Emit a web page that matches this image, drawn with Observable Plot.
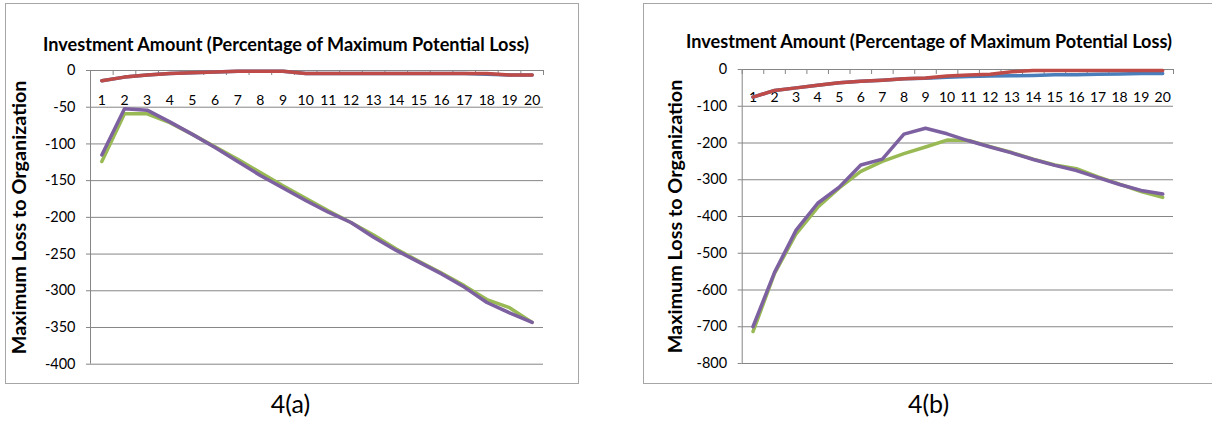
<!DOCTYPE html>
<html><head><meta charset="utf-8">
<script src="https://cdn.jsdelivr.net/npm/d3@7"></script>
<script src="https://cdn.jsdelivr.net/npm/@observablehq/plot@0.6"></script>
<style>
html,body{margin:0;padding:0;background:#fff;width:1212px;height:423px;overflow:hidden;position:relative;}
.frame{position:absolute;border:1px solid #a6a6a6;box-sizing:border-box;}
.chart{position:absolute;top:0;}
</style></head><body>
<div class="frame" style="left:5px;top:3px;width:574px;height:381px"></div>
<div class="frame" style="left:643px;top:3px;width:600px;height:381px"></div>
<div id="a" class="chart" style="left:0px"></div>
<div id="b" class="chart" style="left:620px"></div>
<script>
const categories = [1,2,3,4,5,6,7,8,9,10,11,12,13,14,15,16,17,18,19,20];
const seriesNames = ["Series1","Series2","Series3","Series4"];
const seriesColors = ["#4A7EBB","#BE4B48","#98B954","#7D60A0"];

// Chart 4(a)
const aBlue   = [-14,-9,-6,-4,-3,-2,-1,-1,-1,-4,-4,-4,-4,-4,-4,-4,-4,-5,-6,-6];
const aRed    = [-14,-9,-6,-4,-3,-2,-1,-1,-1,-4,-4,-4,-4,-4,-4,-4,-4,-4,-6,-6];
const aGreen  = [-124,-59,-59,-71,-87,-104,-121,-139,-157,-174,-191,-207,-224,-243,-260,-276,-293,-312,-323,-343];
const aPurple = [-115,-52,-54,-70,-87,-105,-124,-143,-160,-177,-193,-207,-227,-245,-261,-277,-295,-316,-330,-343];
const aYTicks = [0,-50,-100,-150,-200,-250,-300,-350,-400];

// Chart 4(b)
const bBlue   = [-75,-57,-50,-43,-36,-32,-29,-25,-24,-21,-19,-18,-17,-16,-14,-14,-13,-12,-11,-11];
const bRed    = [-75,-57,-50,-43,-36,-32,-29,-25,-23,-18,-15,-13,-6,-3,-3,-3,-3,-3,-3,-3];
const bGreen  = [-713,-555,-447,-375,-322,-277,-250,-229,-211,-192,-193,-210,-226,-244,-260,-270,-292,-312,-332,-348];
const bPurple = [-700,-552,-437,-364,-320,-260,-244,-176,-160,-175,-194,-211,-227,-245,-261,-275,-294,-313,-329,-339];
const bYTicks = [0,-100,-200,-300,-400,-500,-600,-700,-800];

const titleText = "Investment Amount (Percentage of Maximum Potential Loss)";
const yLabelText = "Maximum Loss to Organization";

function makeChart(o) {
  const series = o.values.map((vals, k) => ({name: seriesNames[k], color: seriesColors[k], rows: vals.map((v, i) => ({cat: categories[i], value: v}))}));
  const bounds = [categories[0] - 0.5, ...categories.map(c => c + 0.5)];
  const grid = "#868686";
  return Plot.plot({
    width: o.width, height: 423,
    marginLeft: o.ml, marginRight: o.mr, marginTop: o.mt, marginBottom: o.mb,
    style: {fontFamily: "Lato, sans-serif", fontSize: "14px", background: "transparent", color: "black", overflow: "visible"},
    x: {domain: [categories[0] - 0.5, categories[categories.length - 1] + 0.5], axis: null},
    y: {domain: [o.yTicks[o.yTicks.length - 1], o.yTicks[0]]},
    marks: [
      Plot.gridY(o.yTicks, {stroke: grid, strokeOpacity: 1}),
      Plot.ruleX([bounds[0]], {stroke: grid}),
      Plot.ruleX(bounds, {x: d => d, y1: () => 0, y2: () => 0, insetBottom: -5, stroke: grid}),
      Plot.axisY(o.yTicks, {tickSize: 4, tickPadding: 11, stroke: grid, fill: "black", fontSize: 14.5, label: null, tickFormat: d => String(d)}),
      Plot.text(categories, {x: d => d, y: () => 0, text: d => String(d), lineAnchor: "bottom", dy: o.tickDy, fontSize: 14, fill: "black"}),
      ...series.map(s => Plot.line(s.rows, {x: "cat", y: "value", stroke: s.color, strokeWidth: 3.5, strokeLinejoin: "round", strokeLinecap: "round"})),
      Plot.text([titleText], {frameAnchor: "top", text: d => d, dx: o.titleDx, dy: o.titleDy, lineAnchor: "bottom", fontWeight: "bold", fontSize: 18.1, fill: "black"}),
      Plot.text([yLabelText], {frameAnchor: "left", textAnchor: "middle", text: d => d, rotate: -90, dx: o.labelDx, fontWeight: "bold", fontSize: 19.8, fill: "black"}),
      Plot.text([o.caption], {frameAnchor: "bottom", text: d => d, dx: o.capDx, dy: o.capDy, lineAnchor: "bottom", fontSize: 25, fill: "black"})
    ]
  });
}

document.getElementById("a").append(makeChart({
  values: [aBlue, aRed, aGreen, aPurple], yTicks: aYTicks,
  width: 600, ml: 90, mr: 57, mt: 70, mb: 59.3,
  tickDy: 34, titleDx: -31, titleDy: -19.5, labelDx: -71,
  caption: "4(a)", capDx: -26.5, capDy: 48.3
}));
document.getElementById("b").append(makeChart({
  values: [bBlue, bRed, bGreen, bPurple], yTicks: bYTicks,
  width: 592, ml: 121.7, mr: 39, mt: 69, mb: 60,
  tickDy: 32.7, titleDx: -28.85, titleDy: -21.7, labelDx: -66.7,
  caption: "4(b)", capDx: -29.35, capDy: 49
}));
</script>
</body></html>
